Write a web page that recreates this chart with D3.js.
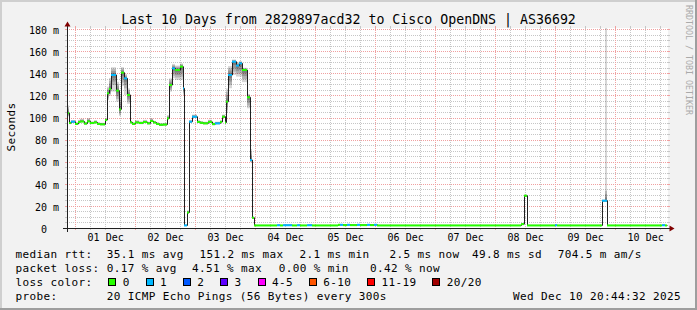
<!DOCTYPE html>
<html>
<head>
	<meta charset="utf-8">
	<style>
		body { margin: 0; background: #f2f2f2; }
		svg { display: block; font-family: 'DejaVu Sans Mono', monospace; }
	</style>
</head>
<body>

	<div id="graph"></div>

	<script src="https://d3js.org/d3.v7.min.js"></script>

	<script>
		// graph end = last update, 10 days shown
		const endTime = Date.UTC(2025, 11, 10, 20, 44, 32);
		const startTime = endTime - 10 * 24 * 3600 * 1000;
		const spanHours = 240;

		// each sample: start hour (from graph start), median rtt, lost pings, smoke spread
		const sampleHours = [
			0.0, 0.7, 1.7, 3.1, 4.2, 5.3, 6.7, 8.0, 9.0, 10.7,
			12.0, 13.3, 15.1, 15.9, 16.6, 17.7, 19.7, 20.7, 21.7, 22.8,
			23.8, 25.0, 26.0, 27.2, 28.8, 30.4, 32.0, 33.2, 34.4, 35.6,
			36.8, 38.4, 39.9, 40.9, 41.8, 43.2, 45.2, 46.3, 46.9, 47.9,
			48.9, 49.9, 51.9, 53.2, 54.5, 56.5, 57.9, 59.2, 61.2, 61.9,
			63.2, 63.6, 64.5, 65.8, 67.4, 68.6, 69.8, 71.8, 73.0, 73.9,
			74.8, 84.0, 85.2, 86.4, 90.0, 92.0, 93.2, 96.0, 98.0, 108.4,
			109.2, 110.4, 112.0, 113.2, 116.0, 117.2, 120.0, 121.2, 122.8, 124.0,
			181.6, 182.9, 183.9, 195.2, 196.0, 213.9, 215.1, 215.9, 238.0, 239.2
		];
		const medianMs = [
			104.0, 95.0, 96.2, 94.2, 95.9, 96.4, 94.5, 96.5, 95.0, 95.6,
			94.2, 93.8, 97.7, 121.9, 125.8, 138.5, 124.3, 107.4, 140.6, 135.4,
			120.4, 95.6, 94.2, 95.5, 95.0, 95.9, 94.7, 96.8, 95.5, 94.2,
			93.4, 93.6, 99.2, 129.4, 144.5, 143.0, 146.0, 126.4, 2.3, 14.0,
			96.2, 100.7, 96.0, 95.2, 94.7, 96.0, 94.0, 94.7, 96.0, 100.7,
			95.4, 114.3, 138.5, 150.5, 147.0, 149.0, 143.0, 118.3, 61.5, 9.3,
			2.3, 2.5, 2.3, 2.5, 2.3, 2.5, 2.3, 2.5, 2.3, 2.9,
			2.9, 2.6, 2.9, 2.6, 2.9, 2.6, 2.9, 2.6, 2.9, 2.3,
			3.5, 29.2, 2.3, 2.5, 2.3, 24.7, 24.7, 2.3, 2.5, 2.3
		];
		const lostPings = [
			0, 0, 1, 0, 0, 0, 0, 0, 0, 0,
			0, 0, 0, 0, 0, 1, 0, 0, 0, 1,
			0, 0, 0, 0, 0, 0, 0, 0, 0, 0,
			0, 0, 0, 0, 1, 0, 0, 1, 1, 0,
			1, 1, 0, 0, 0, 0, 0, 1, 0, 0,
			0, 0, 1, 1, 1, 1, 0, 0, 1, 0,
			0, 1, 0, 1, 0, 1, 0, 1, 0, 0,
			1, 0, 1, 0, 1, 0, 1, 0, 1, 0,
			0, 0, 0, 1, 0, 1, 1, 0, 1, 0
		];
		const smokeUpMs = [
			7, 1.5, 1.5, 1.5, 2, 2.5, 1.5, 3, 1.5, 2,
			1.5, 1.5, 2, 6, 10, 7, 8, 14, 5, 4,
			6, 1.5, 1.5, 2, 1.5, 2, 1.5, 2.5, 1.5, 1.5,
			1.5, 1.5, 3, 6, 4, 4, 3, 12, 1, 2,
			1.5, 2, 1.5, 1.5, 1.5, 2, 1.5, 1.5, 1.5, 2,
			1.5, 12, 8, 2, 3, 2, 2, 3, 10, 1,
			0.5, 0.5, 0.5, 0.5, 0.5, 0.5, 0.5, 0.5, 0.5, 0.5,
			0.5, 0.5, 0.5, 0.5, 0.5, 0.5, 0.5, 0.5, 0.5, 0.5,
			0.5, 1, 0.5, 0.5, 0.5, 1, 170, 0.5, 0.5, 0.5
		];
		const smokeDownMs = [
			3, 1, 1, 1, 1, 1, 1, 1, 1, 1,
			1, 1, 1, 6, 6, 15, 10, 6, 12, 15,
			8, 1, 1, 1, 1, 1, 1, 1, 1, 1,
			1, 1, 1, 6, 9, 9, 12, 6, 0.3, 1,
			1, 1, 1, 1, 1, 1, 1, 1, 1, 1,
			1, 10, 12, 12, 10, 12, 11, 10, 2, 1,
			0.3, 0.3, 0.3, 0.3, 0.3, 0.3, 0.3, 0.3, 0.3, 0.3,
			0.3, 0.3, 0.3, 0.3, 0.3, 0.3, 0.3, 0.3, 0.3, 0.3,
			0.3, 1, 0.3, 0.3, 0.3, 1, 1, 0.3, 0.3, 0.3
		];

		const yTicksMajor = [20, 40, 60, 80, 100, 120, 140, 160, 180];
		const yTickLabels = [0, 20, 40, 60, 80, 100, 120, 140, 160, 180];

		const lossLabels = ['0', '1', '2', '3', '4-5', '6-10', '11-19', '20/20'];
		const lossColors = ['#26ff00', '#00b8ff', '#0059ff', '#5e00ff', '#ff00ff', '#ff5500', '#ff0000', '#a10000'];

		const titleText = 'Last 10 Days from 2829897acd32 to Cisco OpenDNS | AS36692';
		const rttLegend = ['median rtt:', '35.1 ms avg', '151.2 ms max', '2.1 ms min', '2.5 ms now', '49.8 ms sd', '704.5 m am/s'];
		const lossLegend = ['packet loss:', '0.17 % avg', '4.51 % max', '0.00 % min', '0.42 % now'];
		const probeLegend = ['probe:', '20 ICMP Echo Pings (56 Bytes) every 300s'];
		const stampText = 'Wed Dec 10 20:44:32 2025';

		const W = 697;
		const H = 310;
		const plot = { left: 67, right: 667, top: 28, bottom: 228 };
		const rttX = [16, 107.3, 200, 300, 390, 472.7, 558.3];
		const lossX = [16, 107.3, 192.7, 279.3, 370.7];
		const charW = 7.0;

		const gridColor = '#c6c6c6';
		const mgridColor = '#f0a0a0';

		const svg = d3.select('#graph')
			.append('svg')
			.attr('width', W)
			.attr('height', H);

		// background + 3d shade frame
		svg.append('rect').attr('width', W).attr('height', H).attr('fill', '#f2f2f2');
		svg.append('rect').attr('x', 0).attr('y', 0).attr('width', W).attr('height', 2).attr('fill', '#cfcfcf');
		svg.append('rect').attr('x', 0).attr('y', 0).attr('width', 2).attr('height', H).attr('fill', '#cfcfcf');
		svg.append('rect').attr('x', 0).attr('y', H - 2).attr('width', W).attr('height', 2).attr('fill', '#9e9e9e');
		svg.append('rect').attr('x', W - 2).attr('y', 0).attr('width', 2).attr('height', H).attr('fill', '#9e9e9e');

		svg.append('rect')
			.attr('x', plot.left).attr('y', plot.top)
			.attr('width', plot.right - plot.left + 1).attr('height', plot.bottom - plot.top)
			.attr('fill', '#fff');

		const x = d3.scaleUtc()
			.domain([new Date(startTime), new Date(endTime)])
			.range([plot.left, plot.right]);

		const y = d3.scaleLinear()
			.domain([0, 181])
			.range([plot.bottom, plot.top]);

		const hourDate = h => new Date(startTime + h * 3600 * 1000);
		const px = v => Math.round(v);

		const samples = sampleHours.map((h, i) => ({
			t0: hourDate(h),
			t1: hourDate(i + 1 < sampleHours.length ? sampleHours[i + 1] : spanHours),
			v: medianMs[i],
			loss: lostPings[i],
			up: smokeUpMs[i],
			down: smokeDownMs[i]
		}));

		// grid
		const grid = svg.append('g');
		const start = new Date(startTime);
		const end = new Date(endTime);
		const majorDays = d3.utcDay.range(d3.utcDay.ceil(start), end);
		const minorHours = d3.utcHour.every(6).range(start, end).filter(d => d.getUTCHours() !== 0);

		const vline = (d, color) => {
			const gx = px(x(d)) + 0.5;
			grid.append('line').attr('x1', gx).attr('x2', gx)
				.attr('y1', plot.top).attr('y2', plot.bottom)
				.attr('stroke', color).attr('stroke-dasharray', '1,1');
			grid.append('line').attr('x1', gx).attr('x2', gx)
				.attr('y1', plot.top - 2).attr('y2', plot.top).attr('stroke', color);
			grid.append('line').attr('x1', gx).attr('x2', gx)
				.attr('y1', plot.bottom).attr('y2', plot.bottom + 2).attr('stroke', color);
		};
		const hline = (v, color) => {
			const gy = px(y(v)) + 0.5;
			grid.append('line').attr('x1', plot.left).attr('x2', plot.right + 1)
				.attr('y1', gy).attr('y2', gy)
				.attr('stroke', color).attr('stroke-dasharray', '1,1');
			grid.append('line').attr('x1', plot.left - 2).attr('x2', plot.left)
				.attr('y1', gy).attr('y2', gy).attr('stroke', color);
			grid.append('line').attr('x1', plot.right + 1).attr('x2', plot.right + 3)
				.attr('y1', gy).attr('y2', gy).attr('stroke', color);
		};

		minorHours.forEach(d => vline(d, gridColor));
		d3.range(5, 181, 5).filter(v => v % 20 !== 0).forEach(v => hline(v, gridColor));
		majorDays.forEach(d => vline(d, mgridColor));
		yTicksMajor.forEach(v => hline(v, mgridColor));

		// data area
		svg.append('clipPath').attr('id', 'canvas')
			.append('rect')
			.attr('x', plot.left).attr('y', plot.top)
			.attr('width', plot.right - plot.left + 1).attr('height', plot.bottom - plot.top);

		const data = svg.append('g').attr('clip-path', 'url(#canvas)');

		// smoke: nested grey bands, darkest next to the median
		const band = (s, k) => (k === 4 ? s : Math.min(s * k / 4, 3 * k));
		[4, 3, 2, 1].forEach(k => {
			data.append('g')
				.selectAll('rect')
				.data(samples)
				.join('rect')
				.attr('x', d => px(x(d.t0)))
				.attr('width', d => px(x(d.t1)) - px(x(d.t0)))
				.attr('y', d => y(d.v + band(d.up, k)))
				.attr('height', d => y(d.v - band(d.down, k)) - y(d.v + band(d.up, k)))
				.attr('fill', '#000')
				.attr('fill-opacity', 0.16);
		});

		// median line
		const linePts = samples.map(d => [d.t0, d.v]);
		linePts.push([hourDate(spanHours), medianMs[medianMs.length - 1]]);

		const medianLine = d3.line()
			.x(d => px(x(d[0])) + 0.5)
			.y(d => y(d[1]))
			.curve(d3.curveStepAfter);

		data.append('path')
			.attr('d', medianLine(linePts))
			.attr('fill', 'none')
			.attr('stroke', '#202020')
			.attr('stroke-width', 1);

		data.append('g')
			.selectAll('rect')
			.data(samples)
			.join('rect')
			.attr('x', d => px(x(d.t0)))
			.attr('width', d => px(x(d.t1)) - px(x(d.t0)))
			.attr('y', d => y(d.v) - 1)
			.attr('height', 2)
			.attr('fill', d => lossColors[d.loss]);

		// axes
		const axisColor = '#202020';
		svg.append('line')
			.attr('x1', plot.left - 4).attr('x2', plot.right + 4)
			.attr('y1', plot.bottom + 0.5).attr('y2', plot.bottom + 0.5)
			.attr('stroke', axisColor);
		svg.append('line')
			.attr('x1', plot.left + 0.5).attr('x2', plot.left + 0.5)
			.attr('y1', plot.bottom + 4).attr('y2', plot.top - 4)
			.attr('stroke', axisColor);
		svg.append('path')
			.attr('d', `M${plot.right + 2.5},${plot.bottom - 2.5}L${plot.right + 2.5},${plot.bottom + 3.5}L${plot.right + 7.5},${plot.bottom + 0.5}Z`)
			.attr('fill', '#800000');
		svg.append('path')
			.attr('d', `M${plot.left - 2.5},${plot.top - 1.5}L${plot.left + 3.5},${plot.top - 1.5}L${plot.left + 0.5},${plot.top - 6.5}Z`)
			.attr('fill', '#800000');

		const noonTicks = d3.utcDay.range(d3.utcDay.floor(start), end)
			.map(d => d3.utcHour.offset(d, 12))
			.filter(d => d > start && d < end);

		const xAxis = d3.axisBottom(x)
			.tickValues(noonTicks)
			.tickSize(0)
			.tickPadding(5.5)
			.tickFormat(d3.utcFormat('%d %b'));

		const gx = svg.append('g')
			.attr('transform', `translate(0, ${plot.bottom})`)
			.call(xAxis);
		gx.select('.domain').remove();
		gx.selectAll('text')
			.attr('font-family', 'DejaVu Sans Mono')
			.attr('font-size', '10px')
			.attr('fill', '#000');

		const yAxis = d3.axisLeft(y)
			.tickValues(yTickLabels)
			.tickSize(0)
			.tickPadding(8)
			.tickFormat(d => d === 0 ? '0' : `${d} m`);

		const gy = svg.append('g')
			.attr('transform', `translate(${plot.left}, 0)`)
			.call(yAxis);
		gy.select('.domain').remove();
		gy.selectAll('text')
			.attr('font-family', 'DejaVu Sans Mono')
			.attr('font-size', '10px')
			.attr('fill', '#000')
			.attr('dy', '0.42em')
			.attr('dx', d => d === 0 ? -12 : 0);

		// titles
		svg.append('text')
			.attr('x', W / 2)
			.attr('y', 23.8)
			.attr('text-anchor', 'middle')
			.attr('font-size', '13.25px')
			.attr('fill', '#000')
			.text(titleText);

		svg.append('text')
			.attr('transform', `translate(14.5, ${(plot.top + plot.bottom) / 2 - 1}) rotate(-90)`)
			.attr('text-anchor', 'middle')
			.attr('font-size', '11px')
			.attr('letter-spacing', '0.38px')
			.attr('fill', '#000')
			.text('Seconds');

		svg.append('text')
			.attr('transform', 'translate(685.5, 5) rotate(90)')
			.attr('font-size', '8.3px')
			.attr('fill', '#aaa')
			.text('RRDTOOL / TOBI OETIKER');

		// legend
		const legend = svg.append('g')
			.attr('font-size', '11px')
			.attr('letter-spacing', '0.38px')
			.attr('fill', '#000');

		const rowY = [257.8, 271.8, 285.8, 299.8];

		rttLegend.forEach((t, i) => {
			legend.append('text').attr('x', rttX[i] - 0.6).attr('y', rowY[0]).text(t);
		});
		lossLegend.forEach((t, i) => {
			legend.append('text').attr('x', lossX[i] - 0.6).attr('y', rowY[1]).text(t);
		});

		legend.append('text').attr('x', 15.4).attr('y', rowY[2]).text('loss color:');
		let sx = 108.3;
		lossLabels.forEach((t, i) => {
			legend.append('rect')
				.attr('x', px(sx) + 0.5).attr('y', 278.5)
				.attr('width', 7).attr('height', 7)
				.attr('fill', lossColors[i])
				.attr('stroke', '#000');
			legend.append('text').attr('x', sx + 15 - 0.6).attr('y', rowY[2]).text(t);
			sx = sx + 15 + t.length * charW + 15.3;
		});

		legend.append('text').attr('x', 15.4).attr('y', rowY[3]).text(probeLegend[0]);
		legend.append('text').attr('x', 106.7).attr('y', rowY[3]).text(probeLegend[1]);
		legend.append('text').attr('x', 681).attr('y', rowY[3]).attr('text-anchor', 'end').text(stampText);

	</script>

</body>
</html>
